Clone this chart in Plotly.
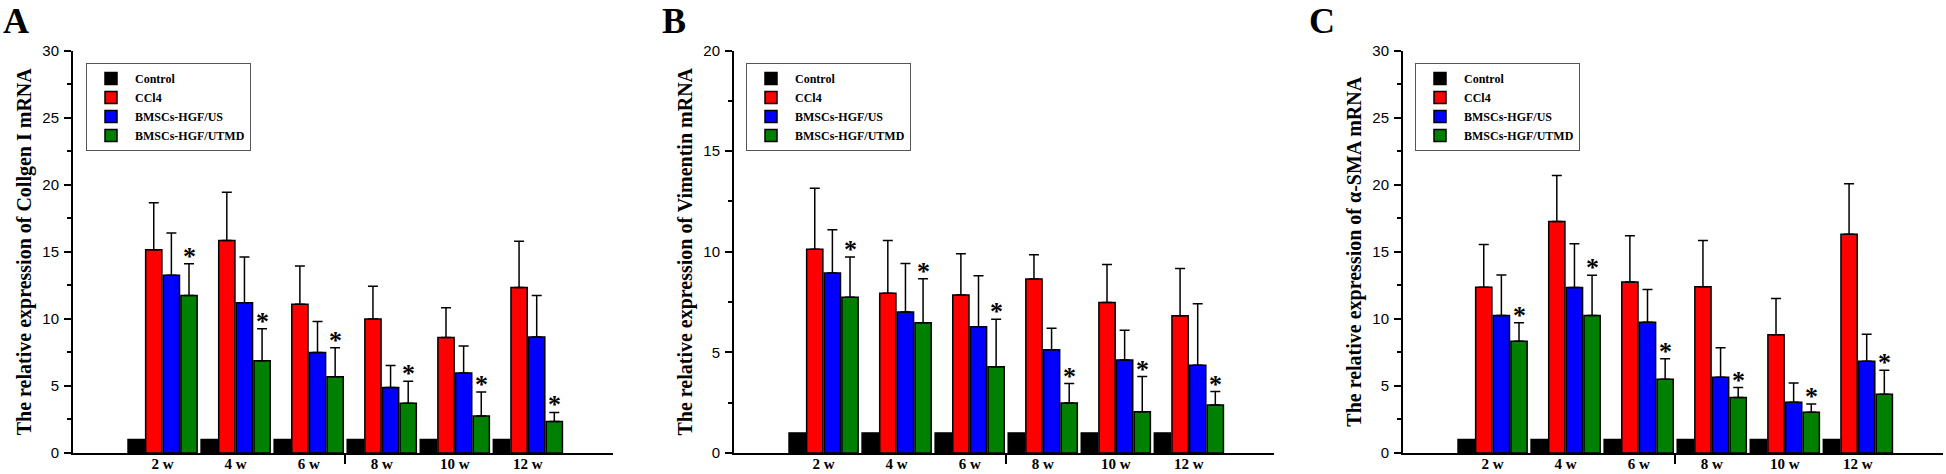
import plotly.graph_objects as go

# ---------------- data ----------------
weeks = ["2 w", "4 w", "6 w", "8 w", "10 w", "12 w"]
week_pos = [1, 2, 3, 4, 5, 6]
groups = ["Control", "CCl4", "BMSCs-HGF/US", "BMSCs-HGF/UTMD"]
colors = ["#000000", "#FF0000", "#0000FF", "#008000"]

# Panel A: Collagen I
a_control = [1.0, 1.0, 1.0, 1.0, 1.0, 1.0]
a_ccl4 = [15.15, 15.84, 11.09, 9.98, 8.61, 12.33]
a_ccl4_sd = [3.51, 3.59, 2.85, 2.45, 2.21, 3.46]
a_us = [13.24, 11.19, 7.50, 4.88, 5.97, 8.64]
a_us_sd = [3.15, 3.41, 2.30, 1.65, 2.00, 3.09]
a_utmd = [11.73, 6.88, 5.69, 3.71, 2.75, 2.35]
a_utmd_sd = [2.37, 2.38, 2.16, 1.64, 1.80, 0.67]

# Panel B: Vimentin
b_control = [1.0, 1.0, 1.0, 1.0, 1.0, 1.0]
b_ccl4 = [10.13, 7.94, 7.85, 8.65, 7.48, 6.82]
b_ccl4_sd = [3.02, 2.62, 2.05, 1.20, 1.89, 2.35]
b_us = [8.94, 7.01, 6.27, 5.13, 4.62, 4.36]
b_us_sd = [2.15, 2.40, 2.54, 1.07, 1.48, 3.05]
b_utmd = [7.74, 6.47, 4.29, 2.49, 2.05, 2.38]
b_utmd_sd = [2.00, 2.19, 2.36, 0.96, 1.75, 0.67]

# Panel C: alpha-SMA
c_control = [1.0, 1.0, 1.0, 1.0, 1.0, 1.0]
c_ccl4 = [12.35, 17.25, 12.75, 12.40, 8.81, 16.31]
c_ccl4_sd = [3.19, 3.44, 3.44, 3.44, 2.70, 3.76]
c_us = [10.25, 12.33, 9.75, 5.64, 3.79, 6.83]
c_us_sd = [3.02, 3.26, 2.43, 2.21, 1.43, 2.03]
c_utmd = [8.32, 10.25, 5.50, 4.13, 3.04, 4.38]
c_utmd_sd = [1.38, 2.99, 1.53, 0.75, 0.62, 1.78]

panel_letters = ["A", "B", "C"]
y_titles = [
    "The relative expression of Collgen I mRNA",
    "The relative expression of Vimentin mRNA",
    "The relative expression of α-SMA mRNA",
]
y_max = [30, 20, 30]

panels = [
    ([a_control, a_ccl4, a_us, a_utmd], [None, a_ccl4_sd, a_us_sd, a_utmd_sd]),
    ([b_control, b_ccl4, b_us, b_utmd], [None, b_ccl4_sd, b_us_sd, b_utmd_sd]),
    ([c_control, c_ccl4, c_us, c_utmd], [None, c_ccl4_sd, c_us_sd, c_utmd_sd]),
]

# ---------------- layout constants ----------------
W, H = 1946, 474
x_domains = [(73 / W, 613 / W), (734 / W, 1274 / W), (1403 / W, 1943 / W)]
y_domain = ((H - 453) / H, (H - 50.5) / H)
legend_x = [86 / W, 746 / W, 1415 / W]
legend_y = (H - 63) / H
letter_x = [2 / W, 661 / W, 1308 / W]
BARGAP = 0.035
BARGROUPGAP = 0.08

SERIF = "Liberation Serif, Times New Roman, serif"
SANS = "Liberation Sans Narrow, Liberation Sans, Arial, sans-serif"

fig = go.Figure()
annotations = []
legend_names = ["legend", "legend2", "legend3"]

for p, (means, sds) in enumerate(panels):
    suffix = "" if p == 0 else str(p + 1)
    for g in range(4):
        err = None
        if sds[g] is not None:
            err = dict(type="data", array=sds[g], symmetric=False,
                       arrayminus=[0] * len(sds[g]), color="#000000",
                       thickness=1.5, width=5)
        fig.add_trace(go.Bar(
            x=week_pos, y=means[g], name=groups[g],
            marker=dict(color=colors[g], line=dict(color="#000000", width=1.5)),
            error_y=err,
            xaxis="x" + suffix, yaxis="y" + suffix,
            legend=legend_names[p],
        ))
    # asterisks above the UTMD bars
    slot = (1 - BARGAP) / 4
    off = -(1 - BARGAP) / 2 + slot * 3.5
    for i in range(6):
        top = means[3][i] + sds[3][i]
        annotations.append(dict(
            x=week_pos[i] + off, y=top, xref="x" + suffix, yref="y" + suffix,
            text="*", showarrow=False, yanchor="bottom", yshift=-9,
            font=dict(family=SERIF, size=26, color="#000000", weight="bold"),
        ))
    annotations.append(dict(
        x=letter_x[p], y=1, xref="paper", yref="paper",
        text=panel_letters[p], showarrow=False, xanchor="left", yanchor="top",
        borderpad=0,
        font=dict(family=SERIF, size=36, color="#000000", weight="bold"),
    ))

    xa = dict(
        domain=list(x_domains[p]), anchor="y" + suffix, range=[-0.226, 7.165],
        automargin=False,
        showline=True, linewidth=2, linecolor="#000000", mirror=False,
        tickmode="array", tickvals=week_pos, ticktext=weeks, ticks="",
        tickfont=dict(family=SERIF, size=15, color="#000000", weight="bold"),
        ticklabelstandoff=-4,
        showgrid=False, zeroline=False,
        minor=dict(tickmode="array", tickvals=[3.5], ticks="outside", ticklen=9,
                   tickwidth=2, tickcolor="#000000", showgrid=False),
    )
    ya = dict(
        domain=list(y_domain), anchor="x" + suffix, range=[0, y_max[p]],
        automargin=False,
        dtick=5, tick0=0, ticks="outside", ticklen=7, tickwidth=2,
        tickcolor="#000000", showline=True, linewidth=2, linecolor="#000000",
        showgrid=False, zeroline=False,
        tickfont=dict(family=SANS, size=15, color="#000000"),
        ticklabelstandoff=2,
        minor=dict(dtick=2.5, ticks="outside", ticklen=4, tickwidth=1.5,
                   tickcolor="#000000", showgrid=False),
        title=dict(text=y_titles[p], standoff=5,
                   font=dict(family=SERIF, size=20, color="#000000", weight="bold")),
    )
    fig.layout["xaxis" + suffix] = xa
    fig.layout["yaxis" + suffix] = ya
    fig.layout[legend_names[p]] = dict(
        x=legend_x[p], y=legend_y, xanchor="left", yanchor="top",
        xref="paper", yref="paper",
        bgcolor="#FFFFFF", bordercolor="#555555", borderwidth=1,
        font=dict(family=SERIF, size=12, color="#000000", weight="bold"),
        tracegroupgap=0, itemwidth=38,
    )

fig.update_layout(
    width=W, height=H, margin=dict(l=0, r=0, t=0, b=0),
    plot_bgcolor="#FFFFFF", paper_bgcolor="#FFFFFF",
    barmode="group", bargap=BARGAP, bargroupgap=BARGROUPGAP,
    showlegend=True, annotations=annotations,
)

fig.write_html(
    "out.html",
    config={"displayModeBar": False},
    post_script="document.body.style.margin='0px';document.body.style.overflow='hidden';",
)
